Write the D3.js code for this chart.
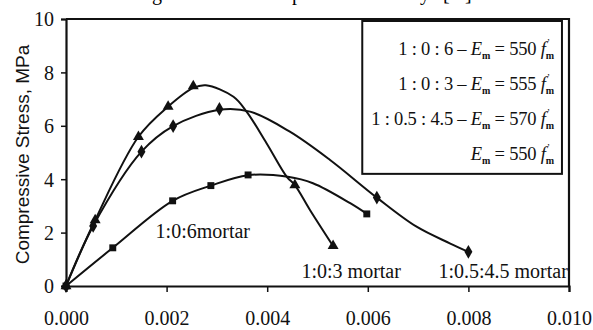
<!DOCTYPE html>
<html>
<head>
<meta charset="utf-8">
<script src="https://cdn.jsdelivr.net/npm/d3@7"></script>
<style>
  body { margin: 0; background: #fff; }
  svg { display: block; }
</style>
</head>
<body>
<div id="chart"></div>
<script>
const width = 593;
const height = 330;
const margin = { left: 66, right: 24, top: 19, bottom: 44 };

// x ticks / y ticks
const x_ticks = [0, 0.002, 0.004, 0.006, 0.008, 0.010];
const y_ticks = [0, 2, 4, 6, 8, 10];

// 1:0:6 mortar (squares)
const mark_106_x = [0, 0.00093, 0.00212, 0.00288, 0.00362, 0.00598];
const mark_106_y = [0, 1.43, 3.19, 3.76, 4.16, 2.70];
const line_106_x = [0, 0.00093, 0.00212, 0.00288, 0.00362, 0.00441, 0.00491, 0.00565, 0.00598];
const line_106_y = [0, 1.43, 3.19, 3.76, 4.15, 4.09, 3.85, 3.10, 2.70];

// 1:0:3 mortar (triangles)
const mark_103_x = [0, 0.00058, 0.00144, 0.00203, 0.00253, 0.00455, 0.00531];
const mark_103_y = [0, 2.47, 5.59, 6.72, 7.49, 3.78, 1.50];
const line_103_x = [0, 0.00058, 0.00144, 0.00203, 0.00253, 0.00278, 0.00333, 0.00359, 0.00399, 0.00439, 0.00455, 0.00485, 0.00531];
const line_103_y = [0, 2.47, 5.59, 6.72, 7.42, 7.52, 7.09, 6.53, 5.34, 4.09, 3.78, 2.85, 1.50];

// 1:0.5:4.5 mortar (diamonds)
const mark_1545_x = [0, 0.00054, 0.0015, 0.00213, 0.00305, 0.00618, 0.008];
const mark_1545_y = [0, 2.25, 5.03, 5.99, 6.63, 3.31, 1.28];
const line_1545_x = [0, 0.00054, 0.0015, 0.00213, 0.00305, 0.00366, 0.00445, 0.00525, 0.00618, 0.00697, 0.00763, 0.008];
const line_1545_y = [0, 2.25, 5.03, 5.99, 6.60, 6.53, 5.78, 4.72, 3.31, 2.22, 1.60, 1.28];

const legend_rows = [
  { mix: "1 : 0 : 6 – ", k: "550" },
  { mix: "1 : 0 : 3 – ", k: "555" },
  { mix: "1 : 0.5 : 4.5 – ", k: "570" },
  { mix: "", k: "550" }
];

// curve labels, placed in data units (centre, baseline)
const labels = [
  { t: '1:0:6mortar', x: 0.00272, y: 1.80 },
  { t: '1:0:3 mortar', x: 0.00567, y: 0.30 },
  { t: '1:0.5:4.5 mortar', x: 0.00869, y: 0.30 }
];

// bits of the caption line above, cut off by the scan
const caption_bits = [
  { t: 'g', x: 152 }, { t: 'p', x: 292 }, { t: 'y', x: 420 }, { t: '[', x: 443 }, { t: ']', x: 465 }
];

const serif = "'Liberation Serif', 'Times New Roman', serif";
const sans = "'Liberation Sans', Arial, sans-serif";

const x_scale = d3.scaleLinear()
  .domain([0, 0.010])
  .range([margin.left, width - margin.right]);
const y_scale = d3.scaleLinear()
  .domain([0, 10])
  .range([height - margin.bottom, margin.top]);

const svg = d3.select('#chart')
  .append('svg')
    .attr('width', width)
    .attr('height', height);

svg.append('g')
    .attr('font-family', serif)
    .attr('font-size', 20)
  .selectAll('text')
  .data(caption_bits)
  .join('text')
    .attr('x', d => d.x)
    .attr('y', -0.5)
    .text(d => d.t);

// frame (top + right)
svg.append('path')
  .attr('d', `M${x_scale(0)},${y_scale(10)}H${x_scale(0.010)}V${y_scale(0)}`)
  .attr('fill', 'none')
  .attr('stroke', '#111')
  .attr('stroke-width', 2.2);

// axes
const x_axis = svg.append('g')
  .attr('transform', `translate(0,${y_scale(0)})`)
  .call(d3.axisBottom(x_scale)
    .tickValues(x_ticks)
    .tickSize(6)
    .tickPadding(19)
    .tickFormat(d3.format('.3f')));
const y_axis = svg.append('g')
  .attr('transform', `translate(${x_scale(0)},0)`)
  .call(d3.axisLeft(y_scale)
    .tickValues(y_ticks)
    .tickSize(5)
    .tickPadding(7)
    .tickFormat(d3.format('d')));

[x_axis, y_axis].forEach(a => {
  a.select('.domain').attr('stroke', '#111').attr('stroke-width', 2.2);
  a.selectAll('.tick line').attr('stroke', '#111').attr('stroke-width', 1.5);
  a.selectAll('.tick text')
    .attr('font-family', serif)
    .attr('font-size', 20)
    .attr('fill', '#111');
});
y_axis.selectAll('.tick text').attr('dy', '0.34em');

// y title
svg.append('text')
  .attr('transform', `translate(29,${(y_scale(0) + y_scale(10)) / 2 + 2}) rotate(-90)`)
  .attr('text-anchor', 'middle')
  .attr('font-family', sans)
  .attr('font-size', 19)
  .attr('fill', '#111')
  .text('Compressive Stress, MPa');

// legend box
svg.append('rect')
  .attr('x', x_scale(0.00589))
  .attr('y', y_scale(10) + 2)
  .attr('width', x_scale(0.00986) - x_scale(0.00589))
  .attr('height', y_scale(4.2) - y_scale(10) - 2)
  .attr('fill', '#fff')
  .attr('stroke', '#111')
  .attr('stroke-width', 2);

const legend = svg.append('g')
  .attr('font-family', serif)
  .attr('font-size', 18.5)
  .attr('fill', '#111');
legend.selectAll('text')
  .data(legend_rows)
  .join('text')
    .attr('x', 554)
    .attr('y', (d, i) => 55 + i * 35)
    .attr('text-anchor', 'end')
    .attr('letter-spacing', -0.2)
    .each(function(d) {
      const t = d3.select(this);
      if (d.mix) t.append('tspan').text(d.mix);
      t.append('tspan').attr('font-style', 'italic').text('E');
      t.append('tspan').attr('font-size', 10).attr('font-weight', 'bold').attr('dy', 4).text('m');
      t.append('tspan').attr('dy', -4).text(` = ${d.k} `);
      t.append('tspan').attr('font-style', 'italic').text('f');
      t.append('tspan').attr('font-size', 10).attr('dx', 1).attr('dy', -9).text('\u2019');
      t.append('tspan').attr('font-size', 10).attr('font-weight', 'bold').attr('dx', -4).attr('dy', 13).text('m');
    });

// curves
const line = d3.line()
  .x(d => x_scale(d[0]))
  .y(d => y_scale(d[1]))
  .curve(d3.curveCatmullRom.alpha(0.5));

const series = [
  { lx: line_106_x, ly: line_106_y, mx: mark_106_x, my: mark_106_y, sym: d3.symbolSquare, size: 48 },
  { lx: line_103_x, ly: line_103_y, mx: mark_103_x, my: mark_103_y, sym: d3.symbolTriangle, size: 52 },
  { lx: line_1545_x, ly: line_1545_y, mx: mark_1545_x, my: mark_1545_y, sym: d3.symbolDiamond, size: 55 }
];

series.forEach(s => {
  svg.append('path')
    .datum(s.lx.map((x, i) => [x, s.ly[i]]))
    .attr('d', line)
    .attr('fill', 'none')
    .attr('stroke', '#111')
    .attr('stroke-width', 2);
  svg.append('g')
    .selectAll('path')
    .data(s.mx.map((x, i) => [x, s.my[i]]))
    .join('path')
      .attr('transform', d => `translate(${x_scale(d[0])},${y_scale(d[1])})`)
      .attr('d', d3.symbol().type(s.sym).size(s.size))
      .attr('fill', '#111');
});

svg.append('g')
  .attr('font-family', serif)
  .attr('font-size', 20)
  .attr('fill', '#111')
  .selectAll('text')
  .data(labels)
  .join('text')
    .attr('x', d => x_scale(d.x))
    .attr('y', d => y_scale(d.y))
    .attr('text-anchor', 'middle')
    .text(d => d.t);
</script>
</body>
</html>
